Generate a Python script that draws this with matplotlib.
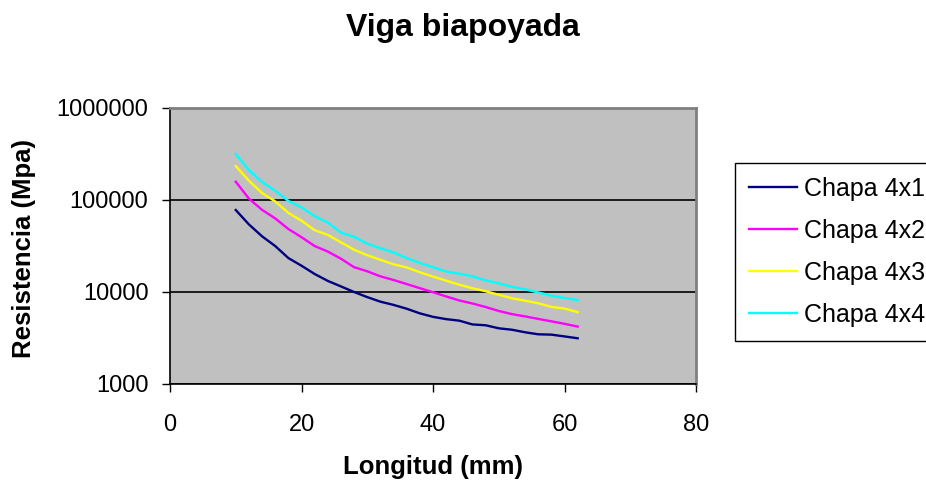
import matplotlib
matplotlib.use("Agg")
import matplotlib.pyplot as plt
from matplotlib.ticker import FixedLocator, FuncFormatter, NullLocator

# Longitud de la viga (mm)
longitud = [10, 12, 14, 16, 18, 20, 22, 24, 26, 28, 30, 32, 34, 36,
            38, 40, 42, 44, 46, 48, 50, 52, 54, 56, 58, 60, 62]

# Resistencia (Mpa) para cada chapa
chapa_4x1 = [77800, 54300, 40300, 31600, 23400, 19300, 15700, 13200, 11500,
             10000, 8800, 7850, 7240, 6580, 5860, 5370, 5070, 4880, 4440,
             4350, 4030, 3890, 3650, 3470, 3440, 3290, 3140]
chapa_4x2 = [158000, 103500, 78200, 63100, 48400, 39400, 31600, 27500, 23000,
             18600, 16800, 14800, 13500, 12200, 11000, 9950, 8950, 8090, 7500,
             6870, 6220, 5750, 5430, 5100, 4800, 4510, 4210]
chapa_4x3 = [234000, 162000, 119000, 96600, 72400, 59600, 47000, 41700, 34700,
             28800, 25100, 22400, 20000, 18500, 16400, 14700, 13300, 12000,
             11000, 10200, 9330, 8550, 8040, 7550, 6890, 6610, 6030]
chapa_4x4 = [316000, 211000, 157000, 126000, 97700, 83200, 66800, 56900, 44200,
             39800, 33500, 29900, 26900, 23400, 20700, 18600, 16700, 15800,
             14800, 13400, 12400, 11400, 10700, 9890, 9120, 8610, 8180]

series_names = ["Chapa 4x1", "Chapa 4x2", "Chapa 4x3", "Chapa 4x4"]
series_colors = ["#000080", "#FF00FF", "#FFFF00", "#00FFFF"]

x_ticks = [0, 20, 40, 60, 80]
y_ticks = [1000, 10000, 100000, 1000000]

plt.rcParams["font.family"] = ["Liberation Sans", "DejaVu Sans"]

W, H = 926, 482
fig = plt.figure(figsize=(W / 100, H / 100), dpi=100)
fig.patch.set_facecolor("white")

left, right, top, bottom = 170, 696, 108, 384
ax = fig.add_axes([left / W, 1 - bottom / H, (right - left) / W, (bottom - top) / H])
ax.set_facecolor("#C0C0C0")

for values, name, color in zip([chapa_4x1, chapa_4x2, chapa_4x3, chapa_4x4],
                               series_names, series_colors):
    ax.plot(longitud, values, color=color, lw=1.7, label=name,
            solid_joinstyle="round", zorder=3)

ax.set_yscale("log")
ax.set_xlim(x_ticks[0], x_ticks[-1])
ax.set_ylim(y_ticks[0], y_ticks[-1])
ax.xaxis.set_major_locator(FixedLocator(x_ticks))
ax.yaxis.set_major_locator(FixedLocator(y_ticks))
ax.yaxis.set_minor_locator(NullLocator())
ax.yaxis.set_major_formatter(FuncFormatter(lambda v, p: f"{int(round(v))}"))

ax.grid(axis="y", color="black", lw=1.2, zorder=1)
ax.set_axisbelow(True)

ax.tick_params(axis="both", direction="out", length=5.5, width=1, color="black",
               labelsize=17, labelcolor="black")
ax.tick_params(axis="y", pad=10)
ax.tick_params(axis="x", pad=16)

for side in ("left", "bottom"):
    ax.spines[side].set_color("black")
    ax.spines[side].set_linewidth(1.2)
for side in ("top", "right"):
    ax.spines[side].set_color("#808080")
    ax.spines[side].set_linewidth(2)

fig.text(463 / W, 1 - 28 / H, "Viga biapoyada", ha="center", va="center",
         fontsize=23, fontweight="bold")
fig.text(433 / W, 1 - 467 / H, "Longitud (mm)", ha="center", va="center",
         fontsize=18.5, fontweight="bold")
fig.text(24 / W, 1 - 248 / H, "Resistencia (Mpa)", ha="center", va="center",
         rotation=90, fontsize=18.5, fontweight="bold")

leg = ax.legend(loc="upper left", bbox_to_anchor=(735 / W, 1 - 163 / H),
                bbox_transform=fig.transFigure, borderaxespad=0,
                fontsize=18, frameon=True, fancybox=False, shadow=False,
                handlelength=1.92, handletextpad=0.28, labelspacing=0.72,
                borderpad=0.55)
leg.get_frame().set_edgecolor("black")
leg.get_frame().set_linewidth(1.0)
leg.get_frame().set_facecolor("white")
leg.get_frame().set_alpha(1)

fig.savefig("out.png", dpi=100)
